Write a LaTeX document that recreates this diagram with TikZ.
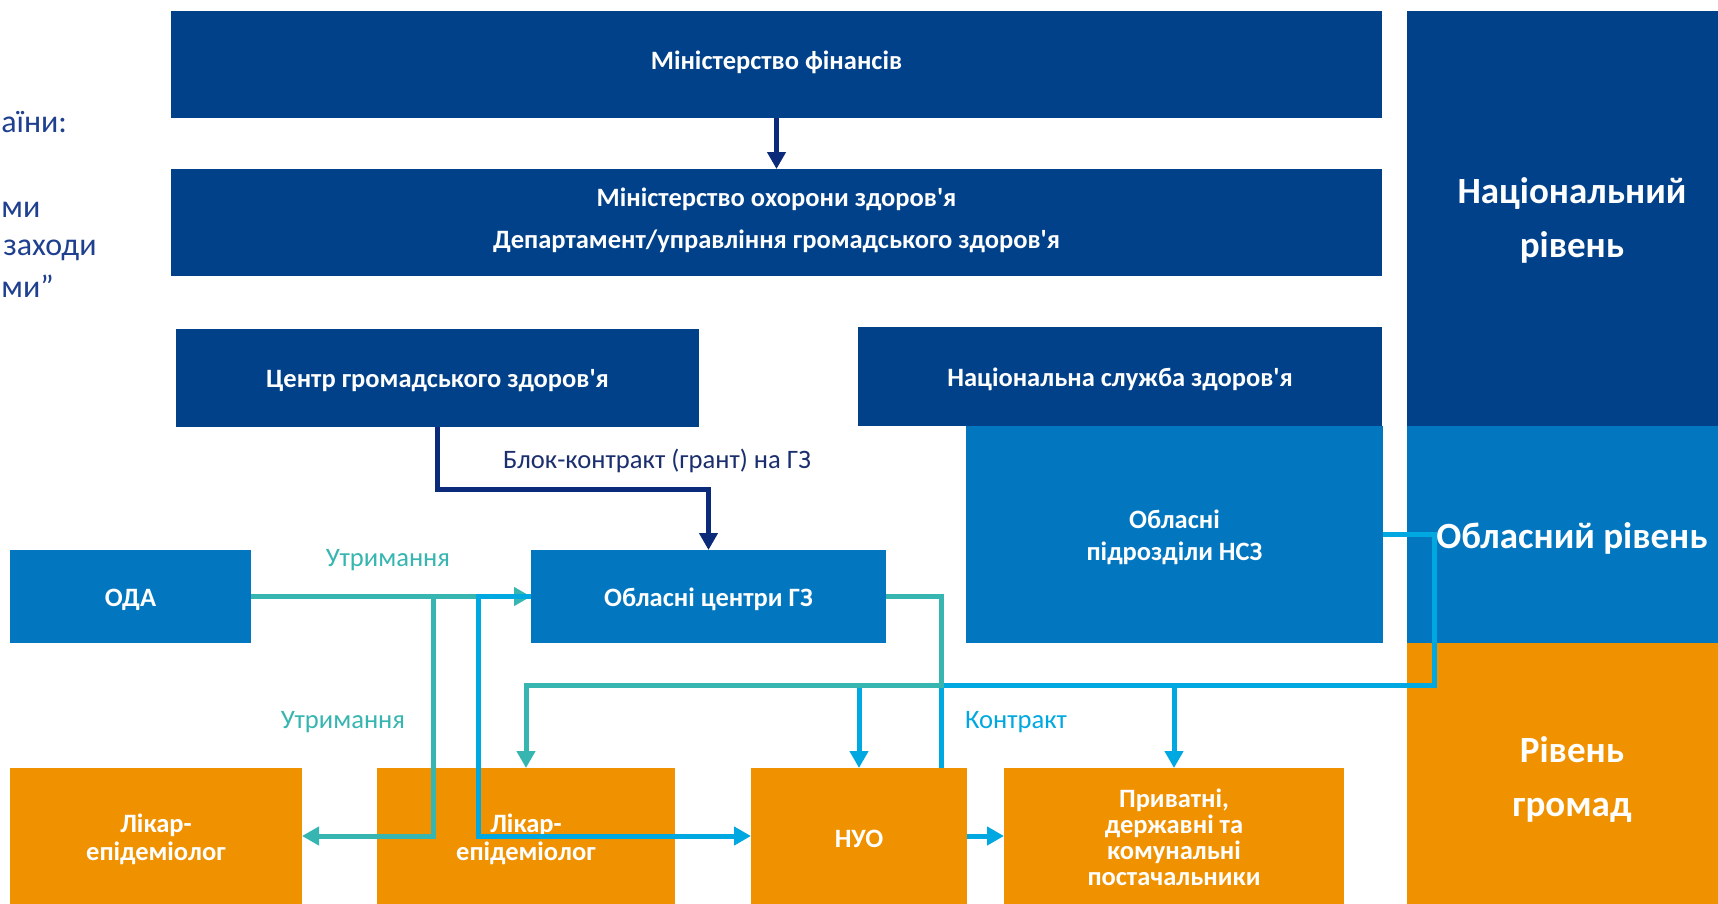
\documentclass[tikz,border=0pt]{standalone}
\usepackage{fontspec}
\setmainfont{Carlito}[Ligatures=TeXOff]
\usetikzlibrary{arrows.meta}
\definecolor{dblue}{HTML}{00418A}
\definecolor{mblue}{HTML}{0276BF}
\definecolor{orng}{HTML}{F09100}
\definecolor{tealc}{HTML}{37B6B1}
\definecolor{lblue}{HTML}{00A8E1}
\definecolor{navyc}{HTML}{0B2A7A}
\definecolor{navytext}{HTML}{1B2F6E}
\definecolor{fragtext}{HTML}{1F3F8F}
\begin{document}
\begin{tikzpicture}[x=0.5pt,y=-0.5pt,
  box/.style={rectangle, inner sep=0pt, outer sep=0pt},
  txt/.style={inner sep=0pt, text=white, yshift=-1.5pt, align=center,
    font=\bfseries\fontsize{13.25}{16}\selectfont},
  lvl/.style={rectangle, inner sep=0pt, outer sep=0pt, text=white,
    font=\bfseries\fontsize{18.5}{27}\selectfont, align=center},
  conn/.style={line width=2.5pt},
  tip/.style={-{Triangle[width=9pt,length=8.5pt]}},
  lbl/.style={inner sep=0pt, font=\fontsize{13.3}{15}\selectfont},
  frag/.style={inner sep=0pt, text=fragtext, font=\fontsize{16}{19}\selectfont}]
\useasboundingbox (0,0) rectangle (1718,904);
\fill[white] (0,0) rectangle (1718,904);

% level column
\fill[dblue] (1407,11) rectangle (1718,426);
\fill[mblue] (1407,426) rectangle (1718,643);
\fill[orng] (1407,643) rectangle (1718,904);
\node[lvl] (lnat) at (1572,220) {Національний\\рівень};
\node[lvl] (lreg) at (1572,538) {Обласний рівень};
\node[lvl] (lcom) at (1572,779) {Рівень\\громад};

% left fragments
\node[frag, anchor=west] (f1) at (1,122) {аїни:};
\node[frag, anchor=west] (f2) at (1,210) {ми};
\node[frag, anchor=east] (f3) at (97,250) {заходи};
\node[frag, anchor=west] (f4) at (1,286) {ми”};

% boxes
\node[box, fill=dblue, minimum width=605.5pt, minimum height=53.5pt,
  label={[txt, yshift=2.75pt]center:Міністерство фінансів}] (mf) at (776.5,64.5) {};
\node[box, fill=dblue, minimum width=605.5pt, minimum height=53.5pt,
  label={[txt, yshift=2.75pt, font=\bfseries\fontsize{13.25}{21}\selectfont]center:Міністерство охорони здоров'я\\Департамент/управління громадського здоров'я}] (moz) at (776.5,222.5) {};
\node[box, fill=dblue, minimum width=261.5pt, minimum height=49pt,
  label={[txt]center:Центр громадського здоров'я}] (cgz) at (437.5,378) {};
\node[box, fill=dblue, minimum width=262pt, minimum height=49.5pt,
  label={[txt]center:Національна служба здоров'я}] (nsz) at (1120,376.5) {};
\node[box, fill=mblue, minimum width=208.5pt, minimum height=108.5pt,
  label={[txt]center:Обласні\\підрозділи НСЗ}] (onsz) at (1174.5,534.5) {};
\node[box, fill=mblue, minimum width=120.5pt, minimum height=46.5pt,
  label={[txt]center:ОДА}] (oda) at (130.5,596.5) {};
\node[box, fill=mblue, minimum width=177.5pt, minimum height=46.5pt,
  label={[txt]center:Обласні центри ГЗ}] (ocgz) at (708.5,596.5) {};
\node[box, fill=orng, minimum width=146pt, minimum height=68pt,
  label={[txt, font=\bfseries\fontsize{13.25}{14}\selectfont]center:Лікар-\\епідеміолог}] (lik1) at (156,836) {};
\node[box, fill=orng, minimum width=149pt, minimum height=68pt,
  label={[txt, font=\bfseries\fontsize{13.25}{14}\selectfont]center:Лікар-\\епідеміолог}] (lik2) at (526,836) {};
\node[box, fill=orng, minimum width=108pt, minimum height=68pt,
  label={[txt]center:НУО}] (nuo) at (859,836) {};
\node[box, fill=orng, minimum width=170pt, minimum height=68pt,
  label={[txt, yshift=0.75pt, font=\bfseries\fontsize{13.25}{13}\selectfont]center:{Приватні,\\державні та\\комунальні\\постачальники}}] (priv) at (1174,836) {};

% labels
\node[lbl, text=navytext] (lblok) at (657,461) {Блок-контракт (грант) на ГЗ};
\node[lbl, text=tealc] (lut1) at (388,560) {Утримання};
\node[lbl, text=tealc] (lut2) at (343,722) {Утримання};
\node[lbl, text=lblue] (lkon) at (1016,722) {Контракт};

% coordinates
\coordinate (t1) at (941,685);
\coordinate (t2) at (433,596.5);
\coordinate (b1) at (1434,685);

% navy connectors
\draw[conn, navyc, tip] (mf.south) -- (moz.north);
\draw[conn, navyc, tip] (cgz.south) -- ++(0,62) -| (ocgz.north);

% light blue connectors
\draw[conn, lblue, tip] (onsz.east) -| (b1) -| (nuo.north);
\draw[conn, lblue, tip] (b1 -| priv.north) -- (priv.north);
\draw[conn, lblue] (t1) -- (t1 |- nuo.north);

% teal connectors
\draw[conn, tealc, tip] (oda.east) -- (ocgz.west);
\draw[conn, tealc, tip] (t2) |- (lik1.east);
\draw[conn, tealc, tip] (ocgz.east) -| (t1) -| (lik2.north);

% light blue over teal
\draw[conn, lblue, tip] (ocgz.west) -- ++(-53,0) |- (nuo.west);
\draw[conn, lblue, tip] (nuo.east) -- (priv.west);
\end{tikzpicture}
\end{document}
